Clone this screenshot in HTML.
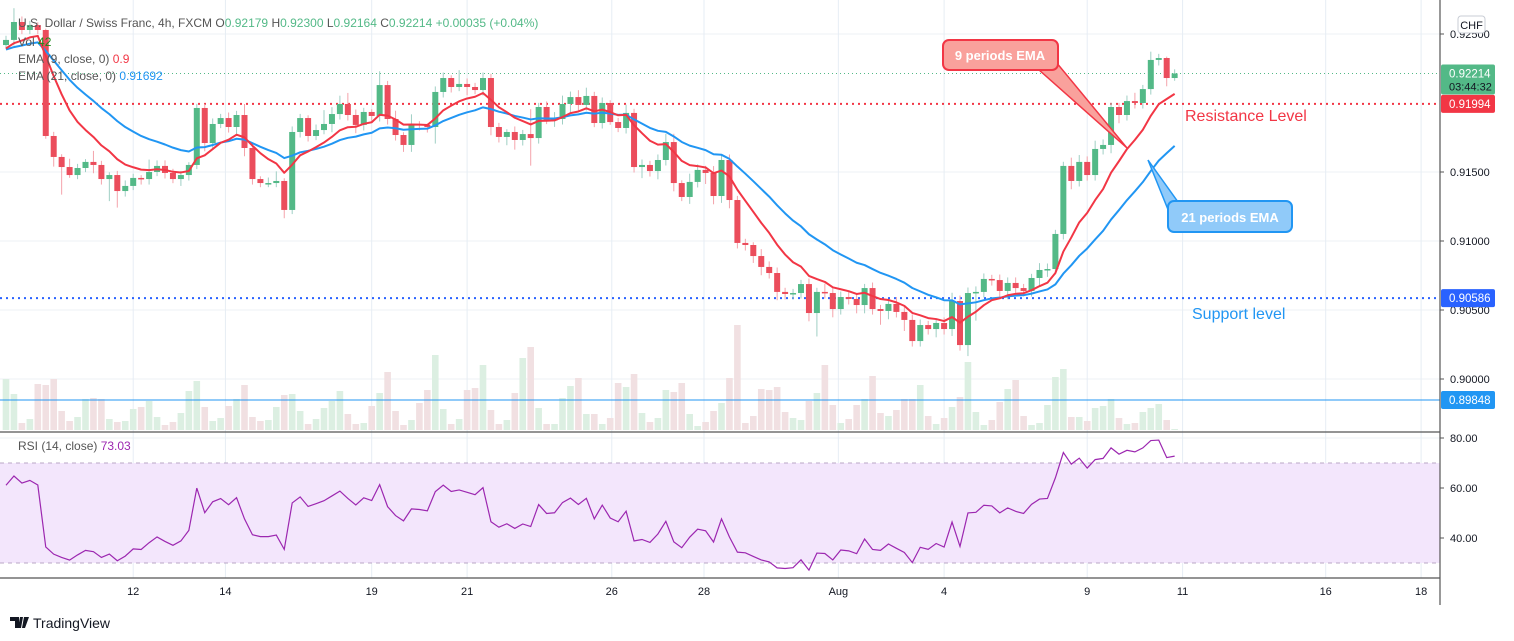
<!DOCTYPE html>
<html><head><meta charset="utf-8"><style>
html,body{margin:0;padding:0;background:#fff;}
svg{display:block;font-family:"Liberation Sans",sans-serif;}
</style></head><body>
<svg id="chart" width="1514" height="641" viewBox="0 0 1514 641" xmlns="http://www.w3.org/2000/svg">
<g id="grid"></g>
<g id="volume"></g>
<g id="hlines"></g>
<g id="candles"></g>
<g id="emas"></g>
<g id="rsi"></g>
<g id="axes"></g>
<g id="notes">
  <polygon points="1038,69 1056,62 1127,148" fill="#f9a19c" stroke="#f23645" stroke-width="1.5"/>
  <rect x="943" y="40" width="115" height="30" rx="6" fill="#f9a19c" stroke="#f23645" stroke-width="2"/>
  <text x="1000" y="60" text-anchor="middle" font-size="13" font-weight="bold" fill="#fff">9 periods EMA</text>
  <polygon points="1169,212 1178,202 1148,160" fill="#90caf9" stroke="#2196f3" stroke-width="1.5"/>
  <rect x="1168" y="201" width="124" height="31" rx="6" fill="#90caf9" stroke="#2196f3" stroke-width="2"/>
  <text x="1230" y="222" text-anchor="middle" font-size="13" font-weight="bold" fill="#fff">21 periods EMA</text>
  <text x="1185" y="121" font-size="16" fill="#f23645">Resistance Level</text>
  <text x="1192" y="319" font-size="16" fill="#2196f3">Support level</text>
</g>
<g id="legend" font-size="12">
  <text x="18" y="27" fill="#555"><tspan>U.S. Dollar / Swiss Franc, 4h, FXCM  O</tspan><tspan fill="#53b987">0.92179</tspan><tspan>  H</tspan><tspan fill="#53b987">0.92300</tspan><tspan>  L</tspan><tspan fill="#53b987">0.92164</tspan><tspan>  C</tspan><tspan fill="#53b987">0.92214  +0.00035 (+0.04%)</tspan></text>
  <text x="18" y="46" fill="#555">Vol <tspan fill="#1b8a1b">42</tspan></text>
  <text x="18" y="63" fill="#555">EMA (9, close, 0)  <tspan fill="#f23645">0.9</tspan></text>
  <text x="18" y="80" fill="#555">EMA (21, close, 0)  <tspan fill="#2196f3">0.91692</tspan></text>
  <text x="18" y="450" fill="#555">RSI (14, close)  <tspan fill="#9c27b0">73.03</tspan></text>
</g>
<g>
  <path d="M10 617h9v11h-4v-7h-5z M20 617h3l-2 11h-3z M24 617h5l-4 11h-3z" fill="#131722"/>
  <text x="33" y="628" font-size="14" fill="#131722">TradingView</text>
</g>
<script>
const closes=[0.92457,0.92587,0.92529,0.92565,0.92529,0.91761,0.91609,0.91536,0.91478,0.91529,0.91573,0.91551,0.91449,0.91478,0.91362,0.91399,0.91457,0.91449,0.91500,0.91544,0.91493,0.91449,0.91478,0.91551,0.91964,0.91710,0.91848,0.91891,0.91826,0.91913,0.91674,0.91449,0.91420,0.91420,0.91435,0.91225,0.91790,0.91891,0.91761,0.91804,0.91848,0.91920,0.91993,0.91913,0.91841,0.91935,0.91906,0.92130,0.91884,0.91768,0.91696,0.91848,0.91841,0.91826,0.92080,0.92181,0.92116,0.92138,0.92116,0.92094,0.92181,0.91826,0.91754,0.91790,0.91732,0.91775,0.91746,0.91971,0.91877,0.91884,0.91993,0.92043,0.91986,0.92051,0.91855,0.92000,0.91862,0.91819,0.91928,0.91536,0.91551,0.91507,0.91587,0.91717,0.91420,0.91319,0.91428,0.91515,0.91493,0.91326,0.91587,0.91297,0.90986,0.90971,0.90891,0.90812,0.90768,0.90631,0.90616,0.90623,0.90688,0.90478,0.90631,0.90623,0.90507,0.90594,0.90580,0.90536,0.90659,0.90507,0.90493,0.90544,0.90486,0.90428,0.90275,0.90391,0.90362,0.90406,0.90362,0.90565,0.90246,0.90623,0.90631,0.90725,0.90717,0.90638,0.90696,0.90659,0.90638,0.90732,0.90790,0.90797,0.91051,0.91544,0.91435,0.91573,0.91478,0.91667,0.91696,0.91971,0.91913,0.92014,0.92000,0.92101,0.92312,0.92326,0.92181,0.92214];
const firstOpen=0.92420;
const upWick=[30,100,40,30,20,10,30,20,60,30,20,80,30,20,30,40,30,20,90,40,40,30,30,20,30,30,40,30,40,30,80,30,20,40,70,20,40,30,20,40,100,50,60,80,40,30,20,100,30,60,20,70,20,10,40,40,20,100,40,30,40,30,30,20,40,30,180,30,40,50,60,40,50,60,30,40,20,30,60,30,40,30,40,60,60,20,60,40,30,50,40,40,30,30,20,50,40,40,30,30,30,40,30,60,40,40,40,40,30,40,30,30,50,40,40,40,30,30,40,60,40,40,40,40,30,40,40,40,30,30,50,40,30,30,60,50,40,60,40,30,30,40,60,30,60,30,10,30];
const loWick=[30,40,30,30,30,20,70,200,20,30,30,60,40,160,120,40,30,40,40,30,40,30,50,40,30,60,40,30,40,60,60,40,30,30,30,60,30,40,40,30,30,60,40,40,60,40,40,40,40,40,50,50,40,40,120,40,40,30,60,30,40,60,40,60,70,40,200,40,30,50,40,60,40,40,30,40,20,30,40,40,80,40,60,40,60,30,50,40,80,60,50,60,40,40,50,60,40,60,40,40,40,60,170,40,60,40,40,60,60,40,100,60,40,80,40,40,40,60,40,50,40,80,200,40,40,50,60,40,40,40,60,50,40,40,60,40,40,40,40,60,60,40,40,40,40,40,60,20];
const volumes=[51,36,7,11,46,45,51,19,9,13,31,32,31,11,8,9,21,23,29,13,5,8,17,39,49,23,9,12,24,31,45,13,9,10,23,35,36,19,6,11,22,29,39,16,6,7,24,37,58,19,5,10,27,40,75,21,6,11,40,42,65,20,6,10,37,72,83,22,6,6,32,44,52,16,16,6,12,47,43,56,17,8,12,40,38,47,16,4,8,19,27,52,105,7,14,41,40,43,18,12,10,29,37,65,25,7,11,25,31,54,17,14,20,31,31,45,14,6,12,23,33,68,18,5,10,28,41,50,14,5,7,25,53,61,13,13,9,22,24,31,12,6,7,18,22,26,10,1];
const priceTicks=[0.925,0.915,0.910,0.905,0.900];
const priceTickLabels=["0.92500","0.91500","0.91000","0.90500","0.90000"];
const rsiTicks=[80,60,40];
const rsiTickLabels=["80.00","60.00","40.00"];
const dateIdx=[16,27.6,46,58,76.2,87.8,104.7,118,136,148,166,178];
const dateLabels=["12","14","19","21","26","28","Aug","4","9","11","16","18"];
const resistance=0.91994, support=0.90586, lowLine=0.89848, lastPrice=0.92214;

const NS="http://www.w3.org/2000/svg";
const X0=6, STEP=7.95, PLOT_R=1440;
const xS=i=>X0+i*STEP;
const yP=p=>34+(0.925-p)*13800;
const yR=v=>438+(80-v)*2.5;
const yV=v=>430-v*1.0;
function mk(tag,attrs,parent){const e=document.createElementNS(NS,tag);for(const k in attrs)e.setAttribute(k,attrs[k]);parent.appendChild(e);return e;}
const G=id=>document.getElementById(id);

// grid
const grid=G('grid');
priceTicks.forEach(p=>{const l=mk('line',{x1:0,x2:PLOT_R,y1:yP(p),y2:yP(p),stroke:'#edf1f6'},grid);});
rsiTicks.forEach(v=>{const l=mk('line',{x1:0,x2:PLOT_R,y1:yR(v),y2:yR(v),stroke:'#edf1f6'},grid);});
dateIdx.forEach(d=>{const l=mk('line',{x1:xS(d),x2:xS(d),y1:0,y2:578,stroke:'#e6edf4'},grid);});

// candles + volume
const opens=closes.map((c,i)=>i===0?firstOpen:closes[i-1]);
const cg=G('candles'), vg=G('volume');
closes.forEach((c,i)=>{
  const o=opens[i], up=c>=o, x=xS(i);
  const hi=Math.max(o,c)+upWick[i]/1e5, lo=Math.min(o,c)-loWick[i]/1e5;
  const w=mk('line',{x1:x,x2:x,y1:yP(hi),y2:yP(lo),stroke:up?'#9fcfc4':'#f4a3ab','stroke-width':1},cg);
  
  
  const t=yP(Math.max(o,c)), b=yP(Math.min(o,c));
  const r=mk('rect',{x:x-3,y:t,width:6,height:Math.max(1.5,b-t),fill:up?'#53b987':'#eb4d5c'},cg);
  
  
  const v=mk('rect',{x:x-3.3,y:yV(volumes[i]),width:6.6,height:volumes[i],fill:up?'#dcefe2':'#f1e0e2'},vg);
  
  
});

// EMAs
function ema(n,seed){let e=seed,k=2/(n+1);return closes.map(c=>(e=c*k+e*(1-k)));}
const e9=ema(9,0.9238), e21=ema(21,0.9238);
const eg=G('emas');
[[e21,'#2196f3','ema21-line'],[e9,'#f23645','ema9-line']].forEach(([s,col,nm])=>{
  const p=mk('polyline',{points:s.map((v,i)=>xS(i)+','+yP(v)).join(' '),fill:'none',stroke:col,'stroke-width':2,'stroke-linejoin':'round'},eg);
  
  
});

// horizontal lines
const hg=G('hlines');
[[lastPrice,'#53b987','1 3',1,'last-price-line'],[resistance,'#f23645','2 4',2,'resistance-line'],[support,'#2962ff','2 4',2,'support-line'],[lowLine,'#2196f3','',1,'horizontal-line-089848']].forEach(([p,c,d,w,nm])=>{
  const l=mk('line',{x1:0,x2:PLOT_R,y1:yP(p),y2:yP(p),stroke:c,'stroke-width':w,'stroke-dasharray':d},hg);
  
  
});

// RSI
const rg=G('rsi');
const band=mk('rect',{x:0,y:yR(70),width:PLOT_R,height:yR(30)-yR(70),fill:'#f3e6fc'},rg);


[70,30].forEach(v=>{const l=mk('line',{x1:0,x2:PLOT_R,y1:yR(v),y2:yR(v),stroke:'#b9a7c6','stroke-dasharray':'4 4'},rg);});
let ag=0.0006, al=0.0004; const rsiVals=[];
closes.forEach((c,i)=>{const d=c-opens[i];ag=(ag*13+Math.max(d,0))/14;al=(al*13+Math.max(-d,0))/14;rsiVals.push(100-100/(1+ag/al));});
const rl=mk('polyline',{points:rsiVals.map((v,i)=>xS(i)+','+yR(v)).join(' '),fill:'none',stroke:'#9c27b0','stroke-width':1.2},rg);



// axes
const ax=G('axes');
function ln(a,nm){const l=mk('line',a,ax);}
ln({x1:0,x2:1440,y1:432,y2:432,stroke:'#555','stroke-width':1.2},'pane-separator');
ln({x1:0,x2:1440,y1:578,y2:578,stroke:'#555','stroke-width':1.2},'time-axis-line');
ln({x1:1440,x2:1440,y1:0,y2:605,stroke:'#555','stroke-width':1.2},'price-axis-line');
function tx(x,y,s,a,nm,col,size,anchor){const t=mk('text',Object.assign({x:x,y:y,'font-size':size||11,fill:col||'#131722','text-anchor':anchor||'start'},a||{}),ax);t.textContent=s;return t;}
priceTicks.forEach((p,i)=>{ln({x1:1440,x2:1444,y1:yP(p),y2:yP(p),stroke:'#555'},'price-tick');tx(1450,yP(p)+4,priceTickLabels[i],null,'price-tick-label');});
rsiTicks.forEach((v,i)=>{ln({x1:1440,x2:1444,y1:yR(v),y2:yR(v),stroke:'#555'},'rsi-tick');tx(1450,yR(v)+4,rsiTickLabels[i],null,'rsi-tick-label');});
dateIdx.forEach((d,i)=>tx(xS(d),595,dateLabels[i],null,'time-tick-label','#131722',11,'middle'));
function tag(p,fill,label,nm,h){const y=yP(p);const r=mk('rect',{x:1441,y:y-9,width:54,height:h||18,rx:2,fill:fill},ax);tx(1449,y+4,label,null,nm+'-text','#fff',11.5);}
tag(lastPrice,'#53b987','0.92214','last-price-tag',30);
tx(1449,yP(lastPrice)+17,'03:44:32',null,'countdown-text','#131722',11);
tag(resistance,'#f23645','0.91994','resistance-tag');
tag(support,'#2962ff','0.90586','support-tag');
tag(lowLine,'#2196f3','0.89848','low-line-tag');
const chf=mk('rect',{x:1458,y:16,width:27,height:17,rx:3,fill:'#fff',stroke:'#c8ccd4'},ax);


tx(1471.5,29,'CHF',null,'currency-label','#131722',11,'middle');
</script>
</svg>
</body></html>
